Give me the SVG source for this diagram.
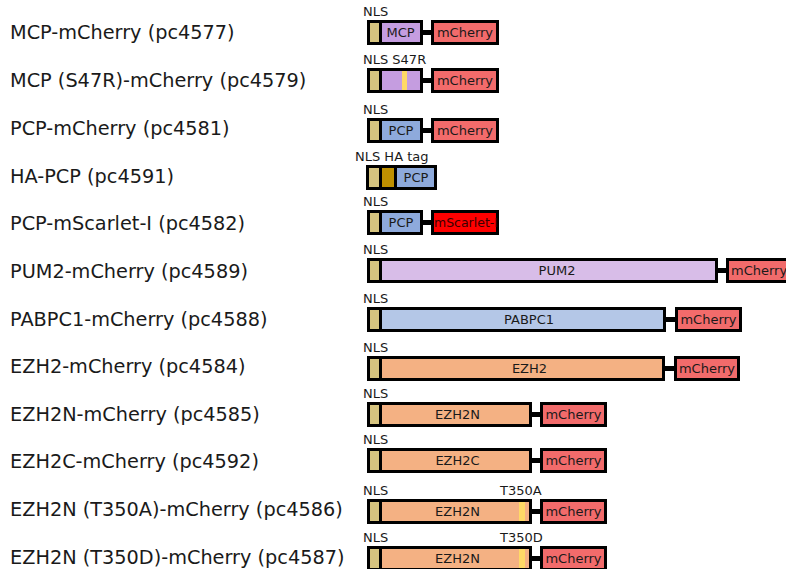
<svg xmlns="http://www.w3.org/2000/svg" width="786" height="569" viewBox="0 0 786 569">
<style>
text{font-family:"DejaVu Sans",Verdana,sans-serif;fill:#1a1a1a}
.lbl{font-size:19.3px}
.sm{font-size:13px}
.in{font-size:13px;text-anchor:middle}
.b{stroke:#000;stroke-width:3}
.nls{fill:#d6c47f}
.mcp{fill:#c59de0}
.pcp{fill:#8eaadc}
.mch{fill:#f26b6b}
.msc{fill:#ff0000}
.ha{fill:#bf9000}
.pum{fill:#d8bde8}
.pab{fill:#b4c7e7}
.ezh{fill:#f4b183}
.mut{fill:#ffd966}
.lk{fill:#000}
</style>
<rect width="786" height="569" fill="#fff"/>
<g id="connectors">
<rect class="lk" x="423" y="30" width="8" height="5"/>
<rect class="lk" x="423" y="78" width="8" height="5"/>
<rect class="lk" x="423" y="128" width="8" height="5"/>
<rect class="lk" x="423" y="220" width="8" height="5"/>
<rect class="lk" x="718" y="268" width="8" height="5"/>
<rect class="lk" x="666" y="317" width="9" height="5"/>
<rect class="lk" x="665" y="366" width="9" height="5"/>
<rect class="lk" x="532" y="412" width="8" height="5"/>
<rect class="lk" x="532" y="458" width="8" height="5"/>
<rect class="lk" x="532" y="509" width="8" height="5"/>
<rect class="lk" x="532" y="556" width="8" height="5"/>
</g>
<g id="row1">
<text class="lbl" x="10" y="39">MCP-mCherry (pc4577)</text>
<text class="sm" x="363" y="16">NLS</text>
<rect class="b nls" x="368.5" y="21.5" width="12" height="22"/>
<rect class="b mcp" x="380.5" y="21.5" width="41" height="22"/>
<text class="in" x="400.5" y="37">MCP</text>
<rect class="b mch" x="432.5" y="21.5" width="65" height="22"/>
<text class="in" x="465" y="37">mCherry</text>
</g>
<g id="row2">
<text class="lbl" x="10" y="87">MCP (S47R)-mCherry (pc4579)</text>
<text class="sm" x="363" y="64">NLS S47R</text>
<rect class="b nls" x="368.5" y="69.5" width="12" height="22"/>
<rect class="b mcp" x="380.5" y="69.5" width="41" height="22"/>
<rect class="mut" x="402" y="71" width="5" height="19"/>
<rect class="b mch" x="432.5" y="69.5" width="65" height="22"/>
<text class="in" x="465" y="85">mCherry</text>
</g>
<g id="row3">
<text class="lbl" x="10" y="135">PCP-mCherry (pc4581)</text>
<text class="sm" x="363" y="114">NLS</text>
<rect class="b nls" x="368.5" y="119.5" width="12" height="22"/>
<rect class="b pcp" x="380.5" y="119.5" width="41" height="22"/>
<text class="in" x="401" y="135">PCP</text>
<rect class="b mch" x="432.5" y="119.5" width="65" height="22"/>
<text class="in" x="465" y="135">mCherry</text>
</g>
<g id="row4">
<text class="lbl" x="10" y="183">HA-PCP (pc4591)</text>
<text class="sm" x="355" y="161">NLS HA tag</text>
<rect class="b nls" x="367.5" y="166.5" width="13" height="22"/>
<rect class="b ha" x="380.5" y="166.5" width="15" height="22"/>
<rect class="b pcp" x="395.5" y="166.5" width="40" height="22"/>
<text class="in" x="416" y="182">PCP</text>
</g>
<g id="row5">
<text class="lbl" x="10" y="230">PCP-mScarlet-I (pc4582)</text>
<text class="sm" x="363" y="206">NLS</text>
<rect class="b nls" x="368.5" y="211.5" width="12" height="22"/>
<rect class="b pcp" x="380.5" y="211.5" width="41" height="22"/>
<text class="in" x="401" y="227">PCP</text>
<rect class="b msc" x="432.5" y="211.5" width="65" height="22"/>
<text x="434" y="227" style="fill:#3a0000;font-size:12.5px" textLength="64" lengthAdjust="spacingAndGlyphs">mScarlet-I</text>
</g>
<g id="row6">
<text class="lbl" x="10" y="278">PUM2-mCherry (pc4589)</text>
<text class="sm" x="363" y="254">NLS</text>
<rect class="b nls" x="368.5" y="259.5" width="12" height="22"/>
<rect class="b pum" x="380.5" y="259.5" width="336" height="22"/>
<text class="in" x="557" y="275">PUM2</text>
<rect class="b mch" x="727.5" y="259.5" width="80" height="22"/>
<text class="sm" x="731" y="275">mCherry</text>
</g>
<g id="row7">
<text class="lbl" x="10" y="326">PABPC1-mCherry (pc4588)</text>
<text class="sm" x="363" y="303">NLS</text>
<rect class="b nls" x="368.5" y="308.5" width="12" height="22"/>
<rect class="b pab" x="380.5" y="308.5" width="284" height="22"/>
<text class="in" x="529" y="324">PABPC1</text>
<rect class="b mch" x="676.5" y="308.5" width="64" height="22"/>
<text class="in" x="708.5" y="324">mCherry</text>
</g>
<g id="row8">
<text class="lbl" x="10" y="373">EZH2-mCherry (pc4584)</text>
<text class="sm" x="363" y="352">NLS</text>
<rect class="b nls" x="368.5" y="357.5" width="12" height="22"/>
<rect class="b ezh" x="380.5" y="357.5" width="283" height="22"/>
<text class="in" x="529.5" y="373">EZH2</text>
<rect class="b mch" x="675.5" y="357.5" width="63" height="22"/>
<text class="in" x="707" y="373">mCherry</text>
</g>
<g id="row9">
<text class="lbl" x="10" y="421">EZH2N-mCherry (pc4585)</text>
<text class="sm" x="363" y="398">NLS</text>
<rect class="b nls" x="368.5" y="403.5" width="12" height="22"/>
<rect class="b ezh" x="380.5" y="403.5" width="150" height="22"/>
<text class="in" x="457.5" y="419">EZH2N</text>
<rect class="b mch" x="541.5" y="403.5" width="64" height="22"/>
<text class="in" x="573.5" y="419">mCherry</text>
</g>
<g id="row10">
<text class="lbl" x="10" y="468">EZH2C-mCherry (pc4592)</text>
<text class="sm" x="363" y="444">NLS</text>
<rect class="b nls" x="368.5" y="449.5" width="12" height="22"/>
<rect class="b ezh" x="380.5" y="449.5" width="150" height="22"/>
<text class="in" x="457.5" y="465">EZH2C</text>
<rect class="b mch" x="541.5" y="449.5" width="64" height="22"/>
<text class="in" x="573.5" y="465">mCherry</text>
</g>
<g id="row11">
<text class="lbl" x="10" y="516">EZH2N (T350A)-mCherry (pc4586)</text>
<text class="sm" x="363" y="495">NLS</text>
<text class="sm" x="500" y="495">T350A</text>
<rect class="b nls" x="368.5" y="500.5" width="12" height="22"/>
<rect class="b ezh" x="380.5" y="500.5" width="150" height="22"/>
<rect class="mut" x="519" y="502" width="6" height="19"/>
<text class="in" x="457.5" y="516">EZH2N</text>
<rect class="b mch" x="541.5" y="500.5" width="64" height="22"/>
<text class="in" x="573.5" y="516">mCherry</text>
</g>
<g id="row12">
<text class="lbl" x="10" y="564">EZH2N (T350D)-mCherry (pc4587)</text>
<text class="sm" x="363" y="542">NLS</text>
<text class="sm" x="500" y="542">T350D</text>
<rect class="b nls" x="368.5" y="547.5" width="12" height="22"/>
<rect class="b ezh" x="380.5" y="547.5" width="150" height="22"/>
<rect class="mut" x="519" y="549" width="6" height="19"/>
<text class="in" x="457.5" y="563">EZH2N</text>
<rect class="b mch" x="541.5" y="547.5" width="64" height="22"/>
<text class="in" x="573.5" y="563">mCherry</text>
</g>
</svg>
